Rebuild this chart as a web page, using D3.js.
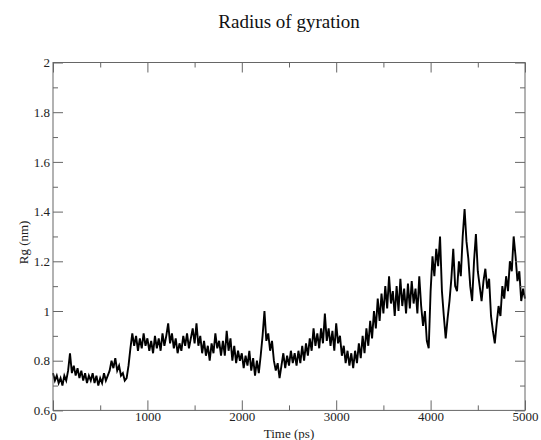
<!DOCTYPE html>
<html><head><meta charset="utf-8">
<script src="https://cdn.jsdelivr.net/npm/d3@7"></script>
<style>body{margin:0;background:#fff}svg{display:block}
svg text{font-family:'Liberation Serif','DejaVu Serif',serif}</style>
</head><body>
<svg id="c" width="541" height="440"></svg>
<script>
const title = "Radius of gyration";
const xLabel = "Time (ps)";
const yLabel = "Rg (nm)";
const xTicks = [0, 1000, 2000, 3000, 4000, 5000];
const xMinor = [500, 1500, 2500, 3500, 4500];
const yTicks = [0.6, 0.8, 1.0, 1.2, 1.4, 1.6, 1.8, 2.0];
const yTickLabels = ["0.6", "0.8", "1", "1.2", "1.4", "1.6", "1.8", "2"];
const yMinor = [0.7, 0.9, 1.1, 1.3, 1.5, 1.7, 1.9];
const timeStep = 20; // ps between samples
const rg = [
  0.75,0.72,0.74,0.71,0.73,0.70,0.74,0.72,0.76,0.83,
  0.75,0.78,0.74,0.77,0.73,0.76,0.72,0.75,0.71,0.74,
  0.72,0.75,0.71,0.74,0.70,0.73,0.71,0.75,0.72,0.74,
  0.76,0.80,0.77,0.81,0.76,0.78,0.74,0.75,0.72,0.73,
  0.78,0.85,0.91,0.86,0.90,0.84,0.89,0.85,0.91,0.86,
  0.89,0.84,0.88,0.83,0.90,0.85,0.89,0.84,0.91,0.86,
  0.90,0.95,0.87,0.91,0.85,0.89,0.83,0.87,0.84,0.90,
  0.86,0.91,0.85,0.89,0.93,0.87,0.95,0.86,0.90,0.83,
  0.88,0.82,0.86,0.80,0.87,0.83,0.91,0.85,0.88,0.82,
  0.88,0.82,0.92,0.84,0.89,0.80,0.86,0.79,0.84,0.80,
  0.83,0.77,0.82,0.78,0.84,0.76,0.81,0.74,0.80,0.75,
  0.82,0.90,1.00,0.88,0.91,0.84,0.88,0.80,0.76,0.79,
  0.73,0.78,0.83,0.77,0.82,0.78,0.84,0.79,0.83,0.78,
  0.84,0.79,0.86,0.80,0.87,0.82,0.89,0.84,0.93,0.86,
  0.91,0.85,0.93,0.87,0.99,0.88,0.93,0.86,0.92,0.84,
  0.95,0.87,0.90,0.82,0.86,0.79,0.84,0.78,0.83,0.77,
  0.84,0.79,0.87,0.81,0.90,0.83,0.93,0.86,0.96,0.89,
  1.00,0.93,1.05,0.96,1.07,0.99,1.10,1.01,1.14,1.03,
  1.08,0.98,1.10,1.00,1.13,1.02,1.09,0.99,1.11,1.01,
  1.12,1.03,1.09,0.99,1.14,1.02,0.94,1.00,0.88,0.85,
  1.08,1.22,1.14,1.25,1.18,1.30,1.08,0.98,0.89,0.97,
  1.04,1.13,1.25,1.10,1.08,1.20,1.14,1.30,1.41,1.28,
  1.21,1.10,1.04,1.20,1.31,1.16,1.10,1.04,1.12,1.17,
  1.09,1.13,0.98,0.92,0.87,0.95,1.02,0.98,1.10,1.05,
  1.14,1.08,1.20,1.16,1.30,1.22,1.12,1.16,1.04,1.09,
  1.05
];

const svg = d3.select("#c");
const L = 53, R = 525, T = 62.5, B = 410.4;
const x = d3.scaleLinear().domain([0, 5000]).range([L, R]);
const y = d3.scaleLinear().domain([0.6, 2.0]).range([B, T]);

const data = rg.map((v, i) => [i * timeStep, v]);

// data line
svg.append("path")
  .datum(data)
  .attr("fill", "none")
  .attr("stroke", "#000")
  .attr("stroke-width", 1.9)
  .attr("stroke-linejoin", "miter")
  .attr("d", d3.line().x(d => x(d[0])).y(d => y(d[1])));

// frame
svg.append("rect").attr("x", L).attr("y", T).attr("width", R - L).attr("height", B - T)
  .attr("fill", "none").attr("stroke", "#666").attr("stroke-width", 1);

const tickStyle = g => g.selectAll("line").attr("stroke", "#666");
const labelStyle = g => g.selectAll("text").attr("font-size", 13).attr("fill", "#222");

// bottom axis (inward ticks)
svg.append("g").attr("transform", `translate(0,${B})`)
  .call(d3.axisBottom(x).tickValues(xTicks).tickSize(-10).tickPadding(1).tickFormat(d3.format("d")))
  .call(g => g.select(".domain").remove()).call(tickStyle).call(labelStyle)
  .attr("font-family", null);
svg.append("g").attr("transform", `translate(0,${B})`)
  .call(d3.axisBottom(x).tickValues(xMinor).tickSize(-5).tickFormat(""))
  .call(g => g.select(".domain").remove()).call(tickStyle);
// top axis
svg.append("g").attr("transform", `translate(0,${T})`)
  .call(d3.axisTop(x).tickValues(xTicks).tickSize(-10).tickFormat(""))
  .call(g => g.select(".domain").remove()).call(tickStyle);
svg.append("g").attr("transform", `translate(0,${T})`)
  .call(d3.axisTop(x).tickValues(xMinor).tickSize(-5).tickFormat(""))
  .call(g => g.select(".domain").remove()).call(tickStyle);

// left axis
svg.append("g").attr("transform", `translate(${L},0)`)
  .call(d3.axisLeft(y).tickValues(yTicks).tickSize(-10).tickPadding(3)
    .tickFormat((d, i) => yTickLabels[i]))
  .call(g => g.select(".domain").remove()).call(tickStyle).call(labelStyle)
  .attr("font-family", null);
svg.append("g").attr("transform", `translate(${L},0)`)
  .call(d3.axisLeft(y).tickValues(yMinor).tickSize(-5).tickFormat(""))
  .call(g => g.select(".domain").remove()).call(tickStyle);
// right axis
svg.append("g").attr("transform", `translate(${R},0)`)
  .call(d3.axisRight(y).tickValues(yTicks).tickSize(-10).tickFormat(""))
  .call(g => g.select(".domain").remove()).call(tickStyle);
svg.append("g").attr("transform", `translate(${R},0)`)
  .call(d3.axisRight(y).tickValues(yMinor).tickSize(-5).tickFormat(""))
  .call(g => g.select(".domain").remove()).call(tickStyle);

// title
svg.append("text").attr("x", (L + R) / 2).attr("y", 28).attr("text-anchor", "middle")
  .attr("font-size", 19).attr("fill", "#111").text(title);
// axis labels
svg.append("text").attr("x", (L + R) / 2).attr("y", 438).attr("text-anchor", "middle")
  .attr("font-size", 13).attr("fill", "#222").text(xLabel);
svg.append("text").attr("transform", `translate(28,${(T + B) / 2 + 6}) rotate(-90)`)
  .attr("text-anchor", "middle")
  .attr("font-size", 13).attr("fill", "#222").text(yLabel);
</script>
</body></html>
